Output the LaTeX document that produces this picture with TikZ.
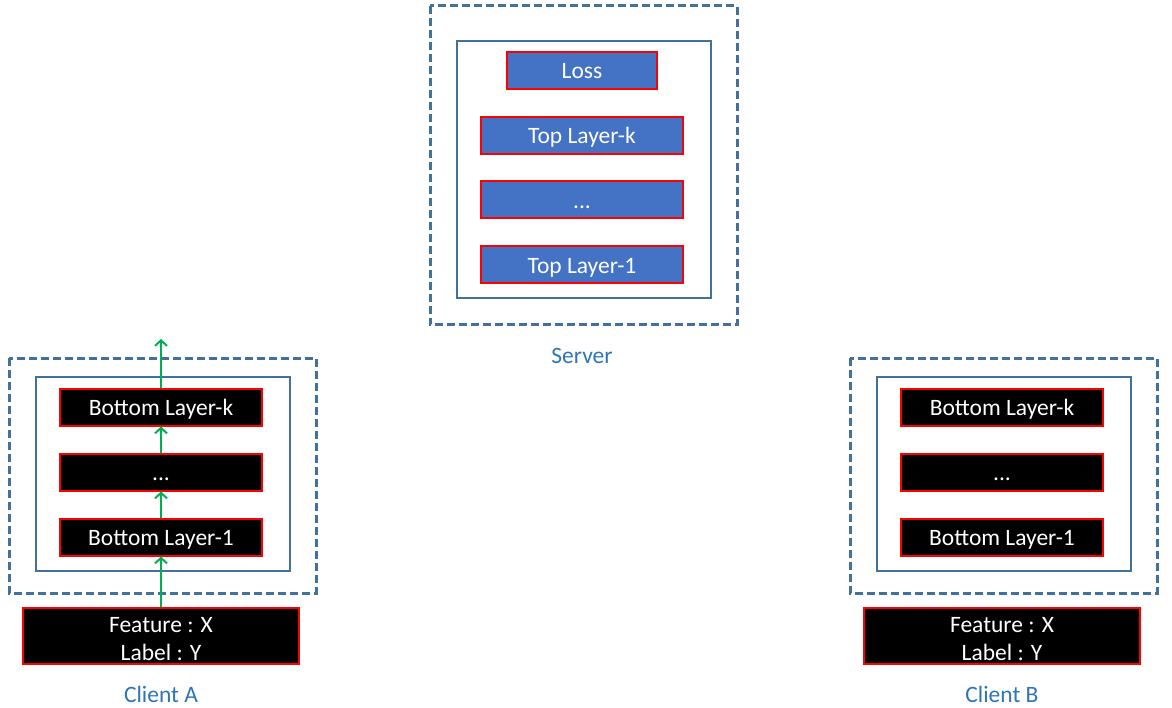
\documentclass[tikz,border=0pt]{standalone}
\usepackage{fontspec}
\setmainfont{Carlito}
\usetikzlibrary{arrows.meta}
\definecolor{frameblue}{RGB}{65,113,156}
\definecolor{fillblue}{RGB}{68,114,196}
\definecolor{labelblue}{RGB}{46,117,182}
\definecolor{arrowgreen}{RGB}{0,176,80}
\tikzset{
  outerbox/.style={draw=frameblue,line width=3pt,dash pattern=on 8pt off 4pt},
  innerbox/.style={draw=frameblue,line width=2pt},
  layer/.style={draw=red,line width=2pt,text=white,inner sep=0pt,font=\fontsize{23.5}{28}\selectfont},
  onebox/.style={minimum height=37pt,text height=22pt,text depth=5pt},
  blacklayer/.style={layer,fill=black},
  bluelayer/.style={layer,fill=fillblue},
  caption/.style={text=labelblue,font=\fontsize{23.5}{28}\selectfont},
  flow/.style={draw=arrowgreen,line width=2pt,-{Straight Barb[length=5.5pt,width=12pt,line width=2pt]}}
}
\begin{document}
\begin{tikzpicture}[x=1pt,y=-1pt]
\useasboundingbox (0,0) rectangle (1172,708);
% Server
\draw[outerbox] (430,6) rectangle (737,325);
\draw[innerbox] (457,41) rectangle (711,298);
\node[bluelayer,onebox,minimum width=150pt] (loss) at (582,70.5) {Loss};
\node[bluelayer,onebox,minimum width=202pt] (topk) at (582,135.5) {Top Layer-k};
\node[bluelayer,onebox,minimum width=202pt] (topd) at (582,200) {...};
\node[bluelayer,onebox,minimum width=202pt] (top1) at (582,265) {Top Layer-1};
\node[caption] (server) at (582,356) {Server};
% Client A
\draw[outerbox] (9,358) rectangle (316,593);
\draw[innerbox] (36,377) rectangle (290,571);
\node[blacklayer,onebox,minimum width=202pt] (ak) at (161,407) {Bottom Layer-k};
\node[blacklayer,onebox,minimum width=202pt] (ad) at (161,472) {...};
\node[blacklayer,onebox,minimum width=202pt] (a1) at (161,537) {Bottom Layer-1};
\node[blacklayer,minimum width=276pt,minimum height=56pt,align=center] (adata) at (161,636) {\rule{0pt}{22pt}Feature : X\\Label : Y};
\node[caption] (clienta) at (161,694) {Client A};
\coordinate (aout) at (161,339);
\draw[flow] (adata.north) -- (a1.south);
\draw[flow] (a1.north) -- (ad.south);
\draw[flow] (ad.north) -- (ak.south);
\draw[flow] (ak.north) -- (aout);
% Client B
\draw[outerbox] (850,358) rectangle (1157,593);
\draw[innerbox] (877,377) rectangle (1131,571);
\node[blacklayer,onebox,minimum width=202pt] (bk) at (1002,407) {Bottom Layer-k};
\node[blacklayer,onebox,minimum width=202pt] (bd) at (1002,472) {...};
\node[blacklayer,onebox,minimum width=202pt] (b1) at (1002,537) {Bottom Layer-1};
\node[blacklayer,minimum width=276pt,minimum height=56pt,align=center] (bdata) at (1002,636) {\rule{0pt}{22pt}Feature : X\\Label : Y};
\node[caption] (clientb) at (1002,694) {Client B};
\end{tikzpicture}
\end{document}
